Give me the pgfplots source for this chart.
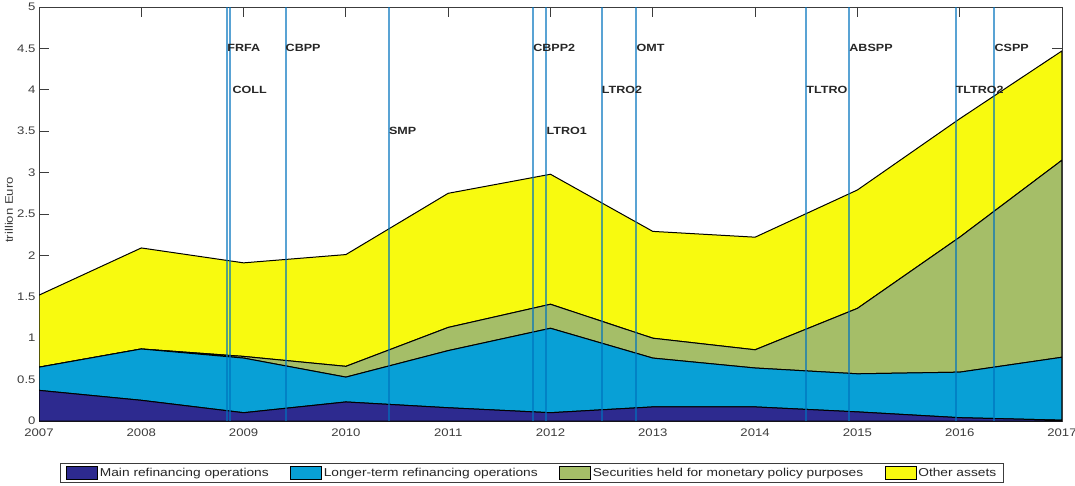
\documentclass[border=0pt]{standalone}
\usepackage{fontspec}
\setmainfont{Liberation Sans}[FakeStretch=1.2]
\usepackage{pgfplots}
\pgfplotsset{compat=1.18}
\usepackage{pgfplotstable}

\definecolor{mro}{RGB}{45,42,143}
\definecolor{ltro}{RGB}{8,160,214}
\definecolor{secu}{RGB}{165,190,104}
\definecolor{oth}{RGB}{248,250,15}
\definecolor{evt}{RGB}{0,114,189}
\definecolor{axgray}{RGB}{60,60,60}

% Eurosystem balance sheet, trillion euro (stacked components)
\pgfplotstableread{
year mro  ltro sec  other
2007 0.37 0.28 0.00 0.87
2008 0.25 0.62 0.00 1.22
2009 0.10 0.66 0.02 1.13
2010 0.23 0.30 0.13 1.35
2011 0.16 0.69 0.28 1.62
2012 0.10 1.02 0.29 1.57
2013 0.17 0.59 0.24 1.29
2014 0.17 0.47 0.22 1.36
2015 0.11 0.46 0.79 1.43
2016 0.04 0.55 1.63 1.43
2017 0.01 0.76 2.38 1.32
}\balance

\pgfplotsset{
  common/.style={
    at={(0,0)}, anchor=south west,
    scale only axis, width=1023bp, height=414bp,
    xmin=2007, xmax=2017, ymin=0, ymax=5,
  },
  event/.style={evt, opacity=0.65, line width=2bp, forget plot},
}
\tikzset{
  evlabel/.style={anchor=west, inner sep=0pt, text=black!85,
    font=\fontsize{10.5}{12}\selectfont\bfseries},
}

\begin{document}
\begin{tikzpicture}
\begin{axis}[common,
  stack plots=y,
  /pgf/number format/assume math mode=true,
  xtick={2007,2008,2009,2010,2011,2012,2013,2014,2015,2016,2017},
  ytick={0,0.5,1,1.5,2,2.5,3,3.5,4,4.5,5},
  tick align=inside, major tick length=10bp,
  axis line style={axgray, line width=0.8bp},
  tick style={axgray, line width=0.8bp},
  xticklabel style={/pgf/number format/1000 sep={}, text=axgray,
    font=\fontsize{11}{13}\selectfont, yshift=-4bp},
  yticklabel style={text=axgray, font=\fontsize{11}{13}\selectfont},
  ylabel={trillion Euro},
  ylabel style={at={(axis description cs:-0.0293,0.51)}, anchor=center,
    text=axgray, font=\fontsize{11}{13}\selectfont},
  legend columns=4,
  legend image code/.code={\draw[#1] (0bp,-6.8bp) rectangle (31bp,6.8bp);},
  legend style={at={(axis description cs:0.482,-0.1256)}, anchor=center,
    draw=axgray, line width=0.8bp, fill=white,
    inner xsep=6bp, inner ysep=2bp,
    font=\fontsize{11.5}{13}\selectfont, text=black!85,
    nodes={inner sep=1.5bp},
    /tikz/every even column/.append style={column sep=20bp}},
]
\addplot[fill=mro, draw=black, line width=1bp] table[x=year, y=mro] {\balance} \closedcycle;
\addlegendentry{Main refinancing operations}
\addplot[fill=ltro, draw=black, line width=1bp] table[x=year, y=ltro] {\balance} \closedcycle;
\addlegendentry{Longer-term refinancing operations}
\addplot[fill=secu, draw=black, line width=1bp] table[x=year, y=sec] {\balance} \closedcycle;
\addlegendentry{Securities held for monetary policy purposes}
\addplot[fill=oth, draw=black, line width=1bp] table[x=year, y=other] {\balance} \closedcycle;
\addlegendentry{Other assets}
\end{axis}

% Policy announcements
\begin{axis}[common, hide axis, clip=false]
\addplot[event] coordinates {(2008.84,0) (2008.84,5)};
\addplot[event] coordinates {(2008.87,0) (2008.87,5)};
\addplot[event] coordinates {(2009.41,0) (2009.41,5)};
\addplot[event] coordinates {(2010.42,0) (2010.42,5)};
\addplot[event] coordinates {(2011.83,0) (2011.83,5)};
\addplot[event] coordinates {(2011.96,0) (2011.96,5)};
\addplot[event] coordinates {(2012.50,0) (2012.50,5)};
\addplot[event] coordinates {(2012.84,0) (2012.84,5)};
\addplot[event] coordinates {(2014.50,0) (2014.50,5)};
\addplot[event] coordinates {(2014.92,0) (2014.92,5)};
\addplot[event] coordinates {(2015.96,0) (2015.96,5)};
\addplot[event] coordinates {(2016.34,0) (2016.34,5)};
\node[evlabel] at (axis cs:2008.84,4.5) {FRFA};
\node[evlabel] at (axis cs:2008.89,4.0) {COLL};
\node[evlabel] at (axis cs:2009.41,4.5) {CBPP};
\node[evlabel] at (axis cs:2010.42,3.5) {SMP};
\node[evlabel] at (axis cs:2011.83,4.5) {CBPP2};
\node[evlabel] at (axis cs:2011.96,3.5) {LTRO1};
\node[evlabel] at (axis cs:2012.50,4.0) {LTRO2};
\node[evlabel] at (axis cs:2012.84,4.5) {OMT};
\node[evlabel] at (axis cs:2014.50,4.0) {TLTRO};
\node[evlabel] at (axis cs:2014.92,4.5) {ABSPP};
\node[evlabel] at (axis cs:2015.96,4.0) {TLTRO2};
\node[evlabel] at (axis cs:2016.34,4.5) {CSPP};
\end{axis}

\pgfresetboundingbox
\path[use as bounding box] (-39bp,-65bp) rectangle (1036bp,421bp);
\end{tikzpicture}
\end{document}
